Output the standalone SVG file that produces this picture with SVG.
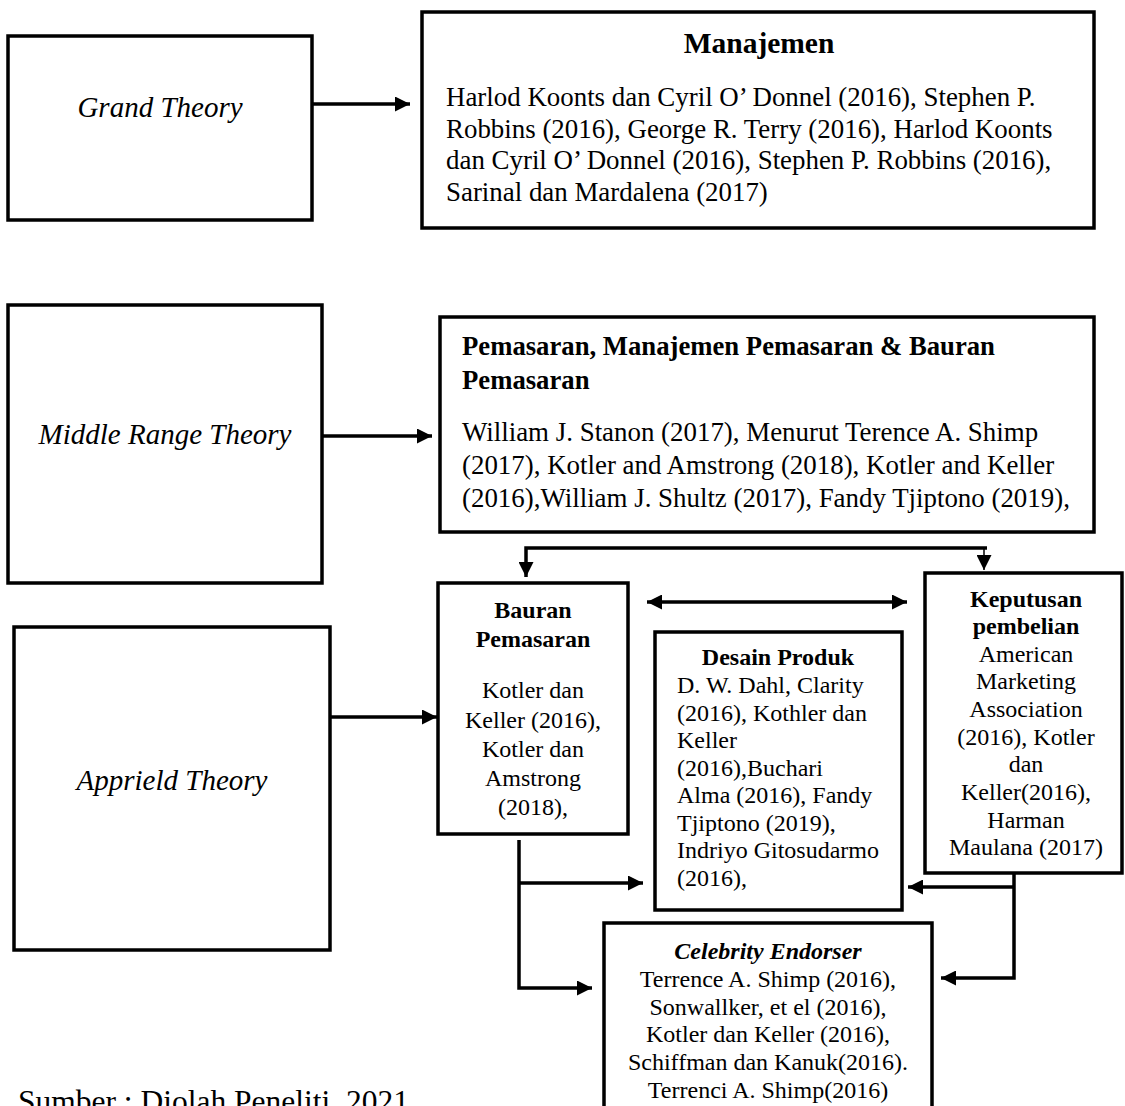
<svg xmlns="http://www.w3.org/2000/svg" width="1125" height="1106" viewBox="0 0 1125 1106">
<defs>
<style>
.box{fill:#fff;stroke:#000;stroke-width:3.5}
.t{font-family:"Liberation Serif","Times New Roman",serif;fill:#000}
.lbl{font-size:29px;font-style:italic}
.b26{font-size:26.9px}
.h26{font-size:26.7px;font-weight:bold}
.h28{font-size:29.5px;font-weight:bold}
.b24{font-size:24px}
.h24{font-size:24px;font-weight:bold}
.c{text-anchor:middle}
.ln{fill:none;stroke:#000;stroke-width:3.5}
.thin{fill:none;stroke:#000;stroke-width:1.5}
</style>
<marker id="ah" viewBox="0 0 15 15" refX="15" refY="7.5" markerWidth="15" markerHeight="15" markerUnits="userSpaceOnUse" orient="auto-start-reverse">
<path d="M0,0 L15,7.5 L0,15 z" fill="#000"/>
</marker>
</defs>
<rect width="1125" height="1106" fill="#fff"/>

<g id="grand-theory">
<rect class="box" x="8" y="36" width="304" height="184"/>
<text class="t lbl c" x="160" y="117">Grand Theory</text>
</g>

<g id="manajemen">
<rect class="box" x="422" y="12" width="672" height="216"/>
<text class="t h28 c" x="759" y="53">Manajemen</text>
<text class="t b26" x="446" y="106">Harlod Koonts dan Cyril O’ Donnel (2016), Stephen P.</text>
<text class="t b26" x="446" y="137.5">Robbins (2016), George R. Terry (2016), Harlod Koonts</text>
<text class="t b26" x="446" y="169">dan Cyril O’ Donnel (2016), Stephen P. Robbins (2016),</text>
<text class="t b26" x="446" y="200.5">Sarinal dan Mardalena (2017)</text>
</g>

<g id="middle-range-theory">
<rect class="box" x="8" y="305" width="314" height="278"/>
<text class="t lbl c" x="165" y="444">Middle Range Theory</text>
</g>

<g id="pemasaran">
<rect class="box" x="440" y="317" width="654" height="215"/>
<text class="t h26" x="462" y="355">Pemasaran, Manajemen Pemasaran &amp; Bauran</text>
<text class="t h26" x="462" y="389">Pemasaran</text>
<text class="t b26" x="462" y="441">William J. Stanon (2017), Menurut Terence A. Shimp</text>
<text class="t b26" x="462" y="474">(2017), Kotler and Amstrong (2018), Kotler and Keller</text>
<text class="t b26" x="462" y="507">(2016),William J. Shultz (2017), Fandy Tjiptono (2019),</text>
</g>

<g id="apprield-theory">
<rect class="box" x="14" y="627" width="316" height="323"/>
<text class="t lbl c" x="172" y="790">Apprield Theory</text>
</g>

<g id="bauran-pemasaran">
<rect class="box" x="438" y="583" width="190" height="251"/>
<text class="t h24 c" x="533" y="618">Bauran</text>
<text class="t h24 c" x="533" y="647">Pemasaran</text>
<text class="t b24 c" x="533" y="698">Kotler dan</text>
<text class="t b24 c" x="533" y="728">Keller (2016),</text>
<text class="t b24 c" x="533" y="757">Kotler dan</text>
<text class="t b24 c" x="533" y="786">Amstrong</text>
<text class="t b24 c" x="533" y="815">(2018),</text>
</g>

<g id="desain-produk">
<rect class="box" x="655" y="632" width="247" height="278"/>
<text class="t h24 c" x="778" y="665">Desain Produk</text>
<text class="t b24" x="677" y="693">D. W. Dahl, Clarity</text>
<text class="t b24" x="677" y="720.5">(2016), Kothler dan</text>
<text class="t b24" x="677" y="748">Keller</text>
<text class="t b24" x="677" y="775.5">(2016),Buchari</text>
<text class="t b24" x="677" y="803">Alma (2016), Fandy</text>
<text class="t b24" x="677" y="830.5">Tjiptono (2019),</text>
<text class="t b24" x="677" y="858">Indriyo Gitosudarmo</text>
<text class="t b24" x="677" y="886">(2016),</text>
</g>

<g id="keputusan-pembelian">
<rect class="box" x="925" y="573" width="197" height="300"/>
<text class="t h24 c" x="1026" y="607">Keputusan</text>
<text class="t h24 c" x="1026" y="634">pembelian</text>
<text class="t b24 c" x="1026" y="662">American</text>
<text class="t b24 c" x="1026" y="689">Marketing</text>
<text class="t b24 c" x="1026" y="717">Association</text>
<text class="t b24 c" x="1026" y="745">(2016), Kotler</text>
<text class="t b24 c" x="1026" y="772">dan</text>
<text class="t b24 c" x="1026" y="800">Keller(2016),</text>
<text class="t b24 c" x="1026" y="828">Harman</text>
<text class="t b24 c" x="1026" y="855">Maulana (2017)</text>
</g>

<g id="celebrity-endorser">
<rect class="box" x="604" y="923" width="328" height="200"/>
<text class="t h24 c" x="768" y="959" font-style="italic">Celebrity Endorser</text>
<text class="t b24 c" x="768" y="987">Terrence A. Shimp (2016),</text>
<text class="t b24 c" x="768" y="1015">Sonwallker, et el (2016),</text>
<text class="t b24 c" x="768" y="1042">Kotler dan Keller (2016),</text>
<text class="t b24 c" x="768" y="1070">Schiffman dan Kanuk(2016).</text>
<text class="t b24 c" x="768" y="1098">Terrenci A. Shimp(2016)</text>
</g>

<g id="connectors">
<line class="ln" x1="312" y1="104" x2="410" y2="104" marker-end="url(#ah)"/>
<line class="ln" x1="322" y1="436" x2="432" y2="436" marker-end="url(#ah)"/>
<line class="ln" x1="330" y1="717" x2="437" y2="717" marker-end="url(#ah)"/>
<polyline class="ln" points="987,548 526,548 526,577" marker-end="url(#ah)"/>
<line class="thin" x1="984" y1="548" x2="984" y2="570" marker-end="url(#ah)"/>
<line class="ln" x1="647" y1="602" x2="907" y2="602" marker-start="url(#ah)" marker-end="url(#ah)"/>
<polyline class="ln" points="519,840 519,988 592,988" marker-end="url(#ah)"/>
<line class="ln" x1="519" y1="883" x2="643" y2="883" marker-end="url(#ah)"/>
<polyline class="ln" points="1014,873 1014,978 941,978" marker-end="url(#ah)"/>
<line class="ln" x1="1014" y1="887" x2="908" y2="887" marker-end="url(#ah)"/>
</g>

<text class="t" x="18" y="1112" font-size="31.5">Sumber : Diolah Peneliti, 2021</text>
</svg>
